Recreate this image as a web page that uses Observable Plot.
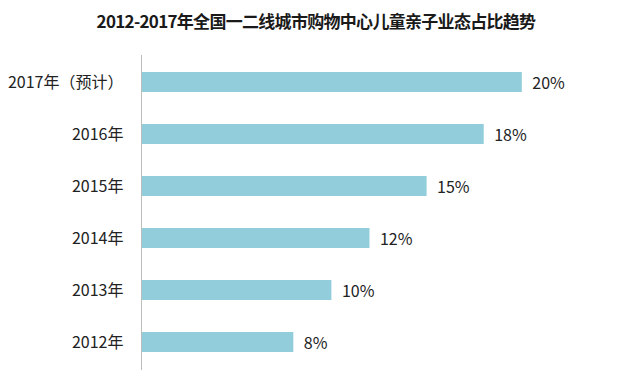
<!DOCTYPE html>
<html>
<head>
<meta charset="utf-8">
<script src="https://cdn.jsdelivr.net/npm/d3@7"></script>
<script src="https://cdn.jsdelivr.net/npm/@observablehq/plot@0.6"></script>
<style>
  html, body { margin: 0; padding: 0; background: #fff; }
  #wrap { position: relative; width: 629px; height: 378px; overflow: hidden; }
  #title { position: absolute; left: 0; width: 632px; top: 8px; text-align: center;
    font-family: "Noto Sans CJK SC", sans-serif; font-weight: bold; font-size: 17px;
    letter-spacing: -0.7px; color: #1a1a1a; }
  #chart { position: absolute; left: 0; top: 0; }
</style>
</head>
<body>
<div id="wrap">
  <div id="chart"></div>
  <div id="title">2012-2017年全国一二线城市购物中心儿童亲子业态占比趋势</div>
</div>
<script>
const categories = ["2017年（预计）", "2016年", "2015年", "2014年", "2013年", "2012年"];
const values = [20, 18, 15, 12, 10, 8];
const valueLabels = ["20%", "18%", "15%", "12%", "10%", "8%"];

const data = categories.map((c, i) => ({category: c, value: values[i], label: valueLabels[i]}));

const font = "'Noto Sans CJK SC', sans-serif";
const chart = Plot.plot({
  width: 629,
  height: 378,
  marginTop: 55,
  marginBottom: 8,
  marginLeft: 141,
  marginRight: 12,
  style: {fontFamily: font, fontSize: "16px", color: "#222", background: "transparent"},
  x: {domain: [0, 25], axis: null},
  y: {domain: categories, paddingInner: 0.61, paddingOuter: 0.305, label: null, tickSize: 0, tickPadding: 18},
  marks: [
    Plot.barX(data, {x: "value", y: "category", fill: "#92CDDC"}),
    Plot.ruleX([0], {stroke: "#bdbdbd", strokeWidth: 1}),
    Plot.text(data, {x: "value", y: "category", text: "label", textAnchor: "start", dx: 10, dy: 1, fill: "#222", fontSize: 16})
  ]
});
document.getElementById("chart").appendChild(chart);
</script>
</body>
</html>
